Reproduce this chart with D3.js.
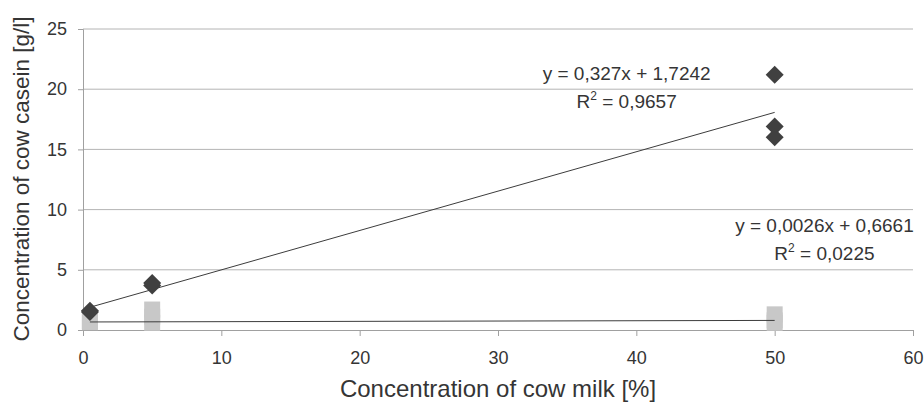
<!DOCTYPE html>
<html>
<head>
<meta charset="utf-8">
<script src="https://cdn.jsdelivr.net/npm/d3@7"></script>
<style>
  body { margin: 0; background: #fff; }
  text { font-family: "Liberation Sans", Arial, sans-serif; fill: #353535; }
</style>
</head>
<body>
<div id="chart-area"></div>
<script>
const margin = { left: 83, right: 11, top: 29, bottom: 72 },
  width = 924 - margin.left - margin.right,
  height = 402 - margin.top - margin.bottom;

// casein samples (diamonds)
const caseinX = [0.5, 0.5, 5, 5, 50, 50, 50];
const caseinY = [1.5, 1.6, 3.7, 3.9, 21.2, 16.9, 16.0];
// second series (squares)
const otherX = [0.5, 0.5, 0.5, 5, 5, 5, 50, 50, 50];
const otherY = [0.65, 0.7, 0.75, 0.6, 1.1, 1.7, 0.6, 0.8, 1.3];

// trend lines: slope, intercept, x range, labels
const trends = [
  { slope: 0.327, icpt: 1.7242, from: 0.5, to: 50, eq: "y = 0,327x + 1,7242", r2: "0,9657", lx: 39.3, ly: 20.8 },
  { slope: 0.0026, icpt: 0.6661, from: 0.5, to: 50, eq: "y = 0,0026x + 0,6661", r2: "0,0225", lx: 53.6, ly: 8.1 }
];

const xTicks = [0, 10, 20, 30, 40, 50, 60];
const yTicks = [0, 5, 10, 15, 20, 25];

const svg = d3.select("#chart-area").append("svg")
  .attr("width", 924).attr("height", 402);

const g = svg.append("g").attr("transform", "translate(" + margin.left + "," + margin.top + ")");

const x = d3.scaleLinear().domain([0, 60]).range([0, width]);
const y = d3.scaleLinear().domain([0, 25]).range([height, 0]);

// gridlines
g.selectAll(".grid").data(yTicks.filter(d => d > 0)).enter().append("line")
  .attr("x1", 0).attr("x2", width)
  .attr("y1", d => y(d)).attr("y2", d => y(d))
  .attr("stroke", "#b4b4b4").attr("stroke-width", 1);

// axes
const xAxis = g.append("g").attr("transform", "translate(0," + height + ")")
  .call(d3.axisBottom(x).tickValues(xTicks).tickSize(6).tickPadding(15));
const yAxis = g.append("g")
  .call(d3.axisLeft(y).tickValues(yTicks).tickSize(5).tickPadding(11));
[xAxis, yAxis].forEach(a => {
  a.select(".domain").attr("stroke", "#a0a0a0");
  a.selectAll(".tick line").attr("stroke", "#a0a0a0");
  a.selectAll(".tick text").style("font-size", "18px").attr("fill", "#353535")
    .style("font-family", "'Liberation Sans', Arial, sans-serif");
});

// squares
const sq = 16;
g.selectAll(".sq").data(otherX.map((d, i) => [d, otherY[i]])).enter().append("rect")
  .attr("x", d => x(d[0]) - sq / 2)
  .attr("y", d => y(d[1]) - sq / 2)
  .attr("width", sq).attr("height", sq)
  .attr("fill", "#c8c8c8");

// trend lines
g.selectAll(".trend").data(trends).enter().append("line")
  .attr("x1", d => x(d.from)).attr("y1", d => y(d.slope * d.from + d.icpt))
  .attr("x2", d => x(d.to)).attr("y2", d => y(d.slope * d.to + d.icpt))
  .attr("stroke", "#3c3c3c").attr("stroke-width", 1);

// diamonds
g.selectAll(".dm").data(caseinX.map((d, i) => [d, caseinY[i]])).enter().append("path")
  .attr("d", "M0,-9L9,0L0,9L-9,0Z")
  .attr("transform", d => "translate(" + x(d[0]) + "," + y(d[1]) + ")")
  .attr("fill", "#404040");

// trend labels
trends.forEach(t => {
  g.append("text").attr("text-anchor", "middle").style("font-size", "19px")
    .attr("x", x(t.lx)).attr("y", y(t.ly)).text(t.eq);
  const r = g.append("text").attr("text-anchor", "middle").style("font-size", "19px")
    .attr("x", x(t.lx)).attr("y", y(t.ly) + 28);
  r.append("tspan").text("R");
  r.append("tspan").attr("dy", -8).style("font-size", "12px").text("2");
  r.append("tspan").attr("dy", 8).text(" = " + t.r2);
});

// axis titles
svg.append("text").attr("text-anchor", "middle").style("font-size", "24px")
  .attr("x", 498).attr("y", 397)
  .text("Concentration of cow milk [%]");
svg.append("text").attr("text-anchor", "middle").style("font-size", "22.5px")
  .attr("transform", "translate(29,179) rotate(-90)")
  .text("Concentration of cow casein [g/l]");
</script>
</body>
</html>
